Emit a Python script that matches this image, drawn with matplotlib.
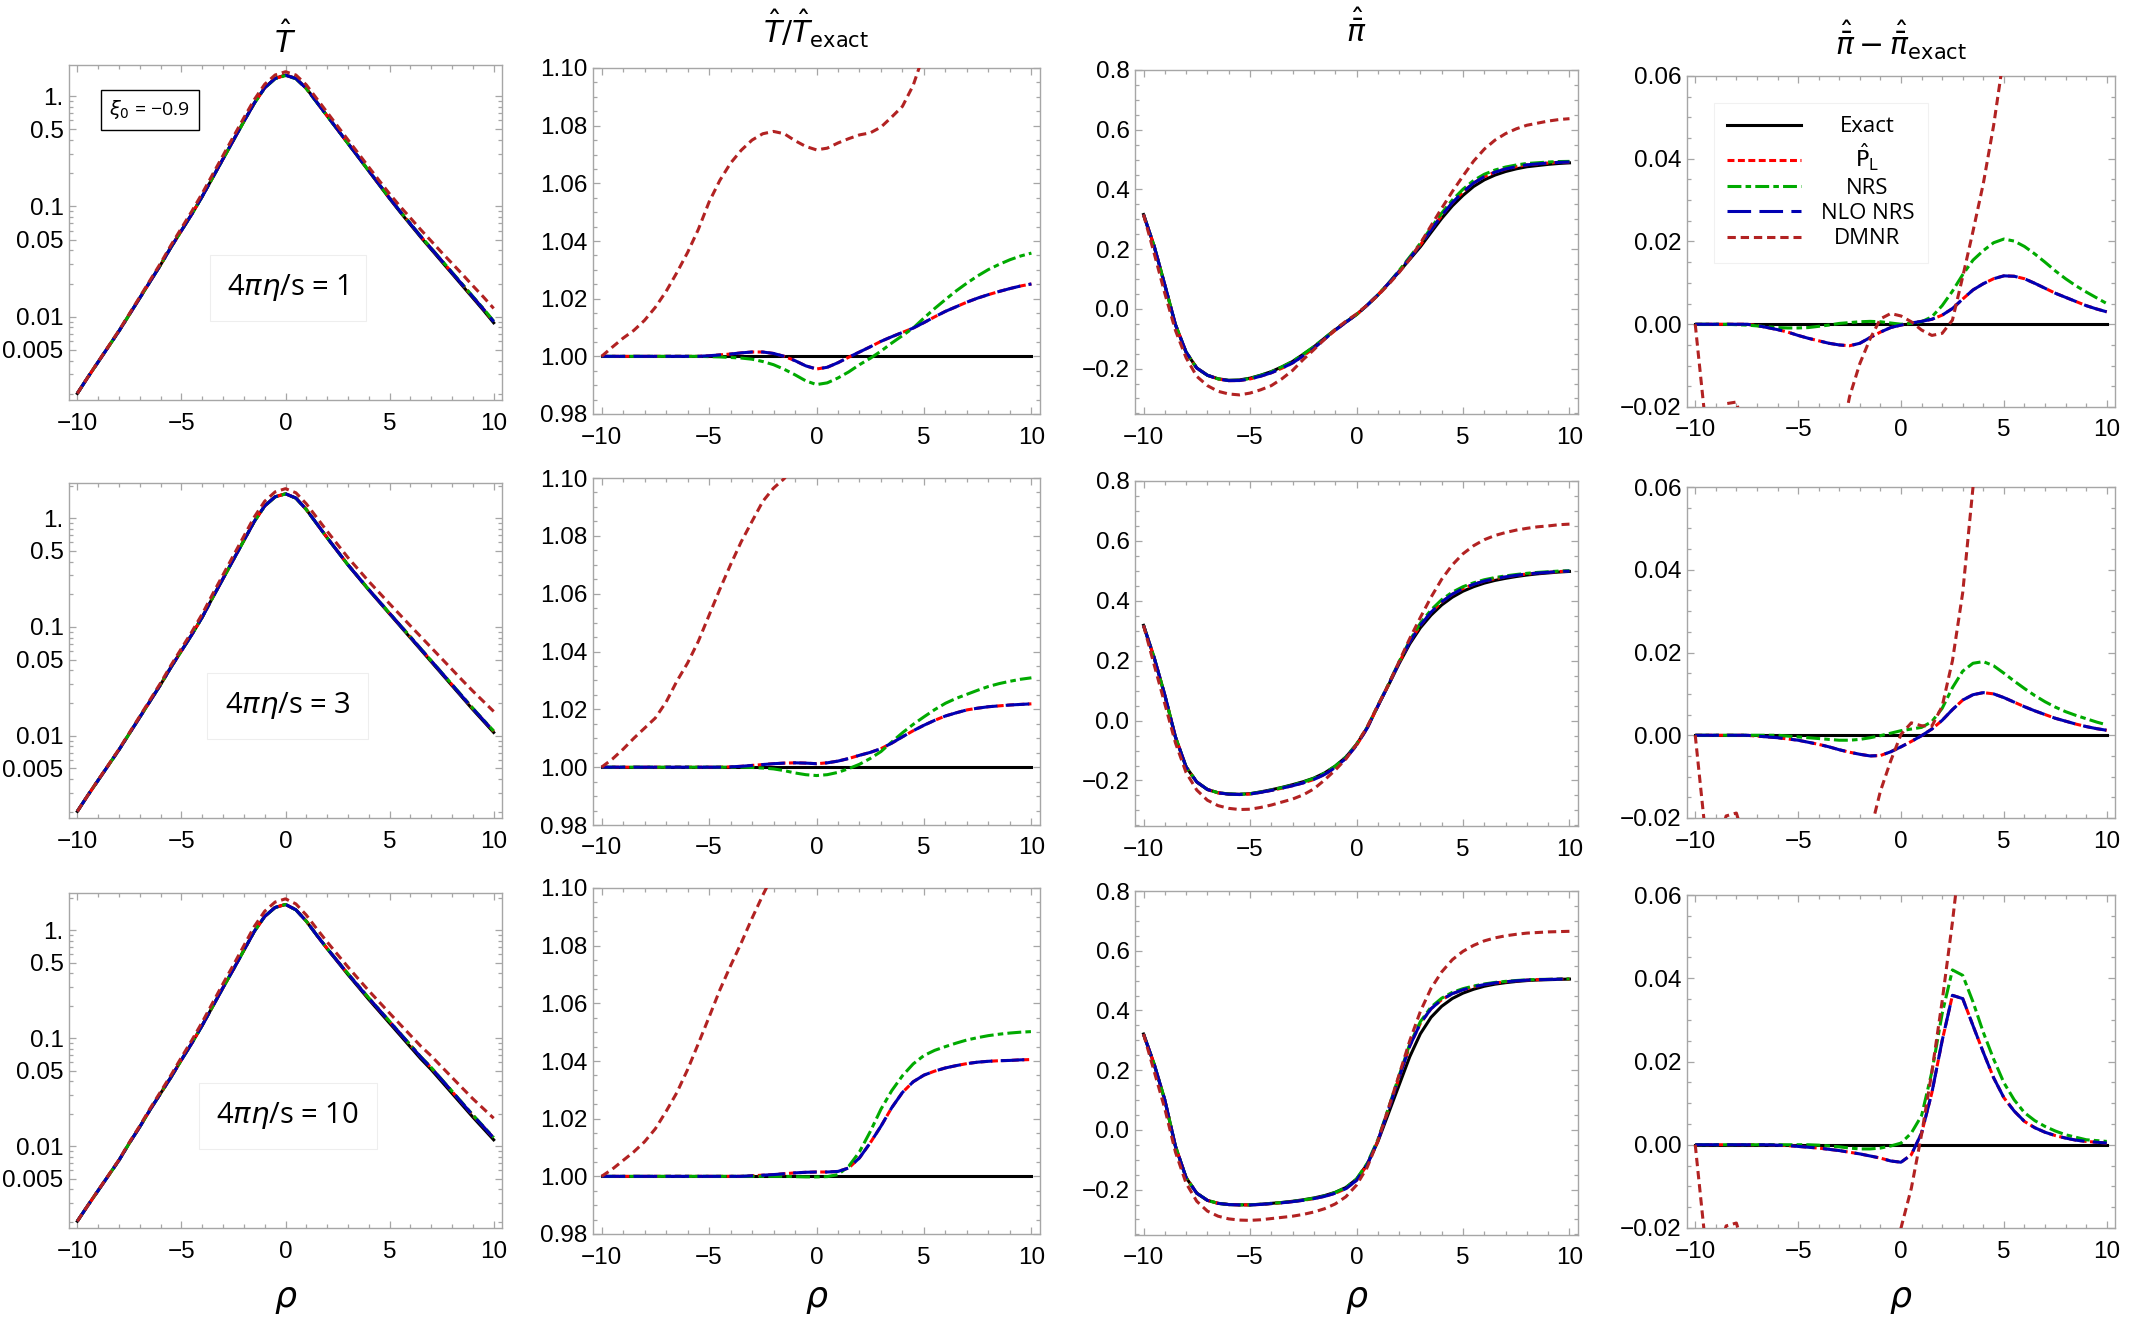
#!/usr/bin/env python3
"""
Gubser-flow comparison grid: T-hat, T-hat ratio, pi-bar-hat and its deviation
for three values of 4 pi eta/s (rows), five hydrodynamic schemes (lines).
"""

import numpy as np
import matplotlib
matplotlib.use("Agg")
import matplotlib.pyplot as plt
from matplotlib.ticker import FixedLocator, MultipleLocator, FuncFormatter

plt.rcParams["font.family"] = ["Liberation Sans", "DejaVu Sans"]
plt.rcParams["mathtext.fontset"] = "dejavusans"
plt.rcParams["lines.scale_dashes"] = False

# ---------------------------------------------------------------- data
RHO = [-10.0, -9.5, -9.0, -8.5, -8.0, -7.5, -7.0, -6.5, -6.0, -5.5,
       -5.0, -4.5, -4.0, -3.5, -3.0, -2.5, -2.0, -1.5, -1.0, -0.5,
       0.0, 0.5, 1.0, 1.5, 2.0, 2.5, 3.0, 3.5, 4.0, 4.5,
       5.0, 5.5, 6.0, 6.5, 7.0, 7.5, 8.0, 8.5, 9.0, 9.5, 10.0]

ETA_VALUES = ["1", "3", "10"]

# --- 4 pi eta/s = 1
LOGT_EXACT_1 = [-2.695, -2.55, -2.41, -2.27, -2.13, -1.98, -1.83, -1.68, -1.53, -1.37,
                -1.22, -1.07, -0.91, -0.74, -0.57, -0.40, -0.23, -0.065, 0.075, 0.16,
                0.19, 0.16, 0.07, -0.055, -0.18, -0.305, -0.43, -0.555, -0.68, -0.805,
                -0.93, -1.05, -1.165, -1.28, -1.39, -1.50, -1.61, -1.72, -1.83, -1.94, -2.055]
TRATIO_NLO_1 = [1.0, 1.0, 1.0, 1.0, 1.0, 1.0, 1.0, 1.0, 1.0, 1.0,
                1.0002, 1.0005, 1.0008, 1.0012, 1.0015, 1.0015, 1.0010, 1.0000, 0.9985, 0.9967,
                0.9956, 0.9962, 0.9978, 0.9997, 1.0015, 1.0033, 1.0052, 1.0068, 1.0083, 1.0098,
                1.0117, 1.0137, 1.0156, 1.0172, 1.0188, 1.0202, 1.0214, 1.0225, 1.0235, 1.0244, 1.0251]
TRATIO_NRS_1 = [1.0, 1.0, 1.0, 1.0, 1.0, 1.0, 1.0, 1.0, 1.0, 1.0,
                0.9999, 0.9998, 0.9996, 0.9994, 0.9990, 0.9982, 0.9971, 0.9955, 0.9936, 0.9915,
                0.9902, 0.9908, 0.9925, 0.9946, 0.9971, 0.9993, 1.0018, 1.0046, 1.0072, 1.0098,
                1.0133, 1.0166, 1.0197, 1.0227, 1.0254, 1.0279, 1.0301, 1.0319, 1.0335, 1.0348, 1.0358]
TRATIO_DMNR_1 = [1.0, 1.0032, 1.0063, 1.0090, 1.0125, 1.0170, 1.0225, 1.0290, 1.0360, 1.0440,
                 1.0535, 1.0610, 1.0670, 1.0715, 1.0750, 1.0772, 1.0780, 1.0772, 1.0748, 1.0728,
                 1.0716, 1.0722, 1.0740, 1.0755, 1.0768, 1.0775, 1.0795, 1.0830, 1.0867, 1.0940,
                 1.105, 1.125, 1.148, 1.17, 1.19, 1.21, 1.24, 1.27, 1.29, 1.32, 1.35]
PI_EXACT_1 = [0.316, 0.21, 0.08, -0.053, -0.145, -0.198, -0.222, -0.234, -0.239, -0.238,
              -0.232, -0.222, -0.210, -0.194, -0.176, -0.152, -0.127, -0.098, -0.070, -0.044,
              -0.019, 0.012, 0.046, 0.084, 0.124, 0.166, 0.208, 0.256, 0.303, 0.345,
              0.380, 0.410, 0.432, 0.448, 0.460, 0.469, 0.476, 0.480, 0.484, 0.487, 0.489]
PIDIFF_NLO_1 = [0.0, 0.0, 0.0, 0.0, 0.0, 0.0, -0.0003, -0.0008, -0.0013, -0.0019,
                -0.0027, -0.0034, -0.0040, -0.0046, -0.0050, -0.0052, -0.0046, -0.0032, -0.0019, -0.0008,
                -0.0002, 0.0003, 0.0007, 0.0012, 0.0022, 0.0038, 0.0061, 0.0083, 0.0098, 0.0110,
                0.0117, 0.0116, 0.0110, 0.0099, 0.0087, 0.0075, 0.0065, 0.0055, 0.0045, 0.0037, 0.0030]
PIDIFF_NRS_1 = [0.0, 0.0, 0.0, 0.0, -0.0001, -0.0002, -0.0004, -0.0006, -0.0008, -0.0009,
                -0.0009, -0.0008, -0.0005, -0.0002, 0.0002, 0.0004, 0.0006, 0.0007, 0.0006, 0.0003,
                0.0000, 0.0002, 0.0006, 0.0018, 0.0045, 0.0080, 0.0120, 0.0155, 0.0178, 0.0197,
                0.0206, 0.0201, 0.0188, 0.0170, 0.0150, 0.0129, 0.0110, 0.0093, 0.0078, 0.0064, 0.0050]
PIDIFF_DMNR_1 = [0.0, -0.024, -0.028, -0.0192, -0.0188, -0.028, -0.035, -0.042, -0.046, -0.050,
                 -0.050, -0.049, -0.047, -0.040, -0.030, -0.0175, -0.0095, -0.0035, 0.0013, 0.0026,
                 0.0020, 0.0006, -0.0014, -0.0027, -0.0022, 0.0010, 0.0115, 0.0225, 0.0340, 0.0480,
                 0.0650, 0.085, 0.103, 0.117, 0.127, 0.134, 0.139, 0.142, 0.145, 0.147, 0.148]

# --- 4 pi eta/s = 3
LOGT_EXACT_3 = [-2.696, -2.55, -2.41, -2.27, -2.13, -1.98, -1.83, -1.68, -1.53, -1.37,
                -1.22, -1.07, -0.91, -0.73, -0.555, -0.38, -0.205, -0.03, 0.113, 0.197,
                0.225, 0.185, 0.08, -0.05, -0.18, -0.305, -0.43, -0.545, -0.66, -0.77,
                -0.88, -0.99, -1.10, -1.21, -1.32, -1.43, -1.54, -1.65, -1.76, -1.865, -1.97]
TRATIO_NLO_3 = [1.0, 1.0, 1.0, 1.0, 1.0, 1.0, 1.0, 1.0, 1.0, 1.0,
                1.0, 1.0, 1.0001, 1.0003, 1.0006, 1.0009, 1.0012, 1.0014, 1.0015, 1.0014,
                1.0012, 1.0015, 1.0021, 1.0030, 1.0041, 1.0051, 1.0064, 1.0083, 1.0105, 1.0126,
                1.0145, 1.0162, 1.0177, 1.0188, 1.0198, 1.0204, 1.0209, 1.0212, 1.0215, 1.0217, 1.0219]
TRATIO_NRS_3 = [1.0, 1.0, 1.0, 1.0, 1.0, 1.0, 1.0, 1.0, 1.0, 1.0,
                1.0, 1.0, 1.0, 1.0, 0.9999, 0.9997, 0.9994, 0.9988, 0.9980, 0.9974,
                0.9971, 0.9974, 0.9982, 0.9995, 1.0010, 1.0030, 1.0054, 1.0087, 1.0119, 1.0148,
                1.0174, 1.0199, 1.0221, 1.0238, 1.0252, 1.0266, 1.0279, 1.0289, 1.0297, 1.0304, 1.0309]
TRATIO_DMNR_3 = [1.0, 1.0028, 1.0062, 1.0100, 1.0135, 1.0170, 1.0225, 1.0297, 1.0360, 1.0435,
                 1.0525, 1.0615, 1.0700, 1.0780, 1.0850, 1.0919, 1.0965, 1.0998, 1.105, 1.11,
                 1.115, 1.12, 1.13, 1.14, 1.15, 1.16, 1.17, 1.185, 1.20, 1.22,
                 1.24, 1.265, 1.29, 1.32, 1.35, 1.38, 1.41, 1.44, 1.48, 1.52, 1.56]
PI_EXACT_3 = [0.318, 0.21, 0.085, -0.055, -0.155, -0.205, -0.230, -0.241, -0.245, -0.246,
              -0.244, -0.238, -0.231, -0.223, -0.214, -0.204, -0.192, -0.175, -0.152, -0.122,
              -0.080, -0.024, 0.048, 0.118, 0.190, 0.256, 0.310, 0.352, 0.386, 0.412,
              0.432, 0.447, 0.459, 0.468, 0.475, 0.481, 0.486, 0.490, 0.493, 0.496, 0.498]
PIDIFF_NLO_3 = [0.0, 0.0, 0.0, 0.0, 0.0, 0.0, -0.0002, -0.0004, -0.0006, -0.0009,
                -0.0012, -0.0017, -0.0022, -0.0028, -0.0035, -0.0041, -0.0046, -0.0050, -0.0049, -0.0040,
                -0.0028, -0.0015, -0.0001, 0.0015, 0.0036, 0.0062, 0.0085, 0.0098, 0.0103, 0.0100,
                0.0091, 0.0080, 0.0069, 0.0059, 0.0050, 0.0041, 0.0034, 0.0027, 0.0021, 0.0016, 0.0012]
PIDIFF_NRS_3 = [0.0, 0.0, 0.0, 0.0, 0.0, 0.0, 0.0, 0.0, 0.0, -0.0002,
                -0.0004, -0.0006, -0.0008, -0.0010, -0.0012, -0.0012, -0.0010, -0.0006, -0.0001, 0.0005,
                0.0011, 0.0015, 0.0019, 0.0033, 0.0065, 0.0115, 0.0155, 0.0174, 0.0178, 0.0168,
                0.0150, 0.0131, 0.0113, 0.0096, 0.0081, 0.0068, 0.0057, 0.0048, 0.0040, 0.0032, 0.0025]
PIDIFF_DMNR_3 = [0.0, -0.024, -0.029, -0.0195, -0.0188, -0.027, -0.036, -0.043, -0.048, -0.051,
                 -0.052, -0.052, -0.051, -0.049, -0.048, -0.044, -0.036, -0.0235, -0.0135, -0.0062,
                 0.0002, 0.0030, 0.0023, 0.0022, 0.0070, 0.0180, 0.0345, 0.0600, 0.086, 0.108,
                 0.125, 0.137, 0.145, 0.150, 0.153, 0.155, 0.156, 0.157, 0.157, 0.158, 0.158]

# --- 4 pi eta/s = 10
LOGT_EXACT_10 = [-2.694, -2.55, -2.41, -2.27, -2.13, -1.97, -1.82, -1.66, -1.51, -1.36,
                 -1.20, -1.045, -0.88, -0.705, -0.53, -0.36, -0.185, -0.01, 0.129, 0.212,
                 0.24, 0.19, 0.085, -0.045, -0.17, -0.29, -0.41, -0.525, -0.64, -0.75,
                 -0.86, -0.97, -1.08, -1.19, -1.29, -1.40, -1.51, -1.62, -1.73, -1.835, -1.94]
TRATIO_NLO_10 = [1.0, 1.0, 1.0, 1.0, 1.0, 1.0, 1.0, 1.0, 1.0, 1.0,
                 1.0, 1.0, 1.0, 1.0, 1.0002, 1.0004, 1.0006, 1.0009, 1.0012, 1.0014,
                 1.0015, 1.0015, 1.0017, 1.0029, 1.0064, 1.0116, 1.0174, 1.0238, 1.0291, 1.0328,
                 1.0351, 1.0365, 1.0376, 1.0384, 1.0391, 1.0396, 1.0399, 1.0401, 1.0402, 1.0404, 1.0405]
TRATIO_NRS_10 = [1.0, 1.0, 1.0, 1.0, 1.0, 1.0, 1.0, 1.0, 1.0, 1.0,
                 1.0, 1.0, 1.0, 1.0, 1.0, 1.0, 1.0, 1.0, 0.9999, 0.9998,
                 0.9998, 0.9999, 1.0006, 1.0035, 1.0085, 1.0155, 1.0233, 1.0297, 1.0349, 1.0390,
                 1.0419, 1.0437, 1.0450, 1.0462, 1.0473, 1.0481, 1.0488, 1.0493, 1.0497, 1.0500, 1.0502]
TRATIO_DMNR_10 = [1.0, 1.0025, 1.0055, 1.0085, 1.0120, 1.0165, 1.0225, 1.0290, 1.0370, 1.0460,
                  1.0552, 1.0646, 1.0730, 1.0810, 1.0895, 1.0975, 1.105, 1.112, 1.118, 1.123,
                  1.128, 1.135, 1.14, 1.148, 1.156, 1.166, 1.178, 1.19, 1.205, 1.222,
                  1.24, 1.26, 1.285, 1.31, 1.34, 1.37, 1.405, 1.44, 1.48, 1.53, 1.585]
PI_EXACT_10 = [0.321, 0.22, 0.10, -0.055, -0.160, -0.212, -0.236, -0.246, -0.250, -0.251,
               -0.251, -0.249, -0.246, -0.243, -0.239, -0.234, -0.228, -0.220, -0.209, -0.193,
               -0.165, -0.115, -0.040, 0.055, 0.150, 0.245, 0.322, 0.377, 0.414, 0.440,
               0.458, 0.471, 0.481, 0.488, 0.493, 0.497, 0.500, 0.502, 0.503, 0.504, 0.505]
PIDIFF_NLO_10 = [0.0, 0.0, 0.0, 0.0, 0.0, 0.0, 0.0, 0.0, -0.0001, -0.0002,
                 -0.0004, -0.0006, -0.0008, -0.0011, -0.0014, -0.0018, -0.0022, -0.0027, -0.0032, -0.0039,
                 -0.0042, -0.0024, 0.0028, 0.0125, 0.0250, 0.0359, 0.0351, 0.0286, 0.0222, 0.0161,
                 0.0113, 0.0081, 0.0056, 0.0041, 0.0030, 0.0022, 0.0016, 0.0011, 0.0008, 0.0006, 0.0004]
PIDIFF_NRS_10 = [0.0, 0.0, 0.0, 0.0, 0.0, 0.0, 0.0, 0.0, 0.0, 0.0,
                 0.0, 0.0, -0.0001, -0.0003, -0.0005, -0.0008, -0.0010, -0.0010, -0.0008, -0.0003,
                 0.0004, 0.0028, 0.0070, 0.0175, 0.0315, 0.0420, 0.0407, 0.0343, 0.0270, 0.0206,
                 0.0149, 0.0108, 0.0077, 0.0058, 0.0044, 0.0033, 0.0024, 0.0018, 0.0012, 0.0010, 0.0008]
PIDIFF_DMNR_10 = [0.0, -0.024, -0.029, -0.0195, -0.0188, -0.027, -0.036, -0.043, -0.048, -0.051,
                  -0.052, -0.052, -0.051, -0.050, -0.050, -0.049, -0.047, -0.044, -0.039, -0.031,
                  -0.0200, -0.0105, 0.0025, 0.0175, 0.0345, 0.0535, 0.075, 0.097, 0.115, 0.130,
                  0.140, 0.147, 0.152, 0.155, 0.157, 0.158, 0.159, 0.159, 0.160, 0.160, 0.160]

ROWS = [
    dict(logT=LOGT_EXACT_1, r_nlo=TRATIO_NLO_1, r_nrs=TRATIO_NRS_1, r_dmnr=TRATIO_DMNR_1,
         pi=PI_EXACT_1, d_nlo=PIDIFF_NLO_1, d_nrs=PIDIFF_NRS_1, d_dmnr=PIDIFF_DMNR_1),
    dict(logT=LOGT_EXACT_3, r_nlo=TRATIO_NLO_3, r_nrs=TRATIO_NRS_3, r_dmnr=TRATIO_DMNR_3,
         pi=PI_EXACT_3, d_nlo=PIDIFF_NLO_3, d_nrs=PIDIFF_NRS_3, d_dmnr=PIDIFF_DMNR_3),
    dict(logT=LOGT_EXACT_10, r_nlo=TRATIO_NLO_10, r_nrs=TRATIO_NRS_10, r_dmnr=TRATIO_DMNR_10,
         pi=PI_EXACT_10, d_nlo=PIDIFF_NLO_10, d_nrs=PIDIFF_NRS_10, d_dmnr=PIDIFF_DMNR_10),
]

# ---------------------------------------------------------------- styles / layout
LW = 2.2
STYLE = {
    "exact": dict(color="black", lw=LW, ls="-", zorder=2),
    "pl": dict(color="#ff0000", lw=LW, dashes=(5, 2.5), zorder=3),
    "nrs": dict(color="#00aa00", lw=LW, dashes=(10, 3, 4, 3), zorder=4),
    "nlo": dict(color="#0000b3", lw=LW, dashes=(17, 6), zorder=5),
    "dmnr": dict(color="#b22222", lw=LW, dashes=(6, 3.5), zorder=6),
}
FRAME = "#a6a6a6"

W, H = 2142, 1328
# (left, top, right, bottom) in pixels
BOXES = [
    [(69, 65, 502, 400), (593, 68, 1040, 414), (1135, 70, 1578, 414), (1687, 76, 2115, 407)],
    [(69, 483, 502, 818), (593, 478, 1040, 825), (1135, 481, 1578, 826), (1687, 487, 2115, 818)],
    [(69, 893, 502, 1228), (593, 888, 1040, 1234), (1135, 891, 1578, 1235), (1687, 895, 2115, 1228)],
]
T_YLIMS = [(0.00176, 1.91), (0.00175, 2.11), (0.00175, 2.22)]


def minus(s):
    return s.replace("-", "\u2212")


def add_axes(fig, box):
    l, t, r, b = box
    return fig.add_axes([l / W, 1 - b / H, (r - l) / W, (b - t) / H])


def style_frame(ax):
    for s in ax.spines.values():
        s.set_color(FRAME)
        s.set_linewidth(1.0)
    ax.tick_params(which="both", direction="in", top=True, right=True,
                   color=FRAME, width=0.9, labelsize=17.5)
    ax.tick_params(which="major", length=5)
    ax.tick_params(which="minor", length=3)
    ax.tick_params(axis="x", pad=9)
    ax.tick_params(axis="y", pad=4)
    ax.set_xlim(-10.4, 10.4)
    ax.xaxis.set_major_locator(FixedLocator([-10, -5, 0, 5, 10]))
    ax.xaxis.set_minor_locator(MultipleLocator(1))
    ax.xaxis.set_major_formatter(FuncFormatter(lambda v, p: minus(f"{v:.0f}")))


def main():
    fig = plt.figure(figsize=(W / 100, H / 100), dpi=100)
    rho = np.array(RHO)

    log_major = [0.005, 0.01, 0.05, 0.1, 0.5, 1.0]
    log_labels = {0.005: "0.005", 0.01: "0.01", 0.05: "0.05", 0.1: "0.1", 0.5: "0.5", 1.0: "1."}
    log_minor = [k * 10.0 ** e for e in (-3, -2, -1, 0) for k in (1, 2, 3, 4, 6, 7, 8, 9)
                 if k * 10.0 ** e not in log_major]

    legend_ax = None
    for i, row in enumerate(ROWS):
        T = 10 ** np.array(row["logT"])
        r_nlo, r_nrs, r_dmnr = (np.array(row[k]) for k in ("r_nlo", "r_nrs", "r_dmnr"))
        pi = np.array(row["pi"])
        d_nlo, d_nrs, d_dmnr = (np.array(row[k]) for k in ("d_nlo", "d_nrs", "d_dmnr"))

        # --- T-hat (log)
        ax = add_axes(fig, BOXES[i][0])
        ax.set_yscale("log")
        ax.plot(rho, T, **STYLE["exact"])
        ax.plot(rho, T * r_nlo, **STYLE["pl"])
        ax.plot(rho, T * r_nrs, **STYLE["nrs"])
        ax.plot(rho, T * r_nlo, **STYLE["nlo"])
        ax.plot(rho, T * r_dmnr, **STYLE["dmnr"])
        style_frame(ax)
        ax.set_ylim(*T_YLIMS[i])
        ax.yaxis.set_major_locator(FixedLocator(log_major))
        ax.yaxis.set_minor_locator(FixedLocator(log_minor))
        ax.yaxis.set_major_formatter(FuncFormatter(lambda v, p: log_labels.get(round(v, 4), "")))
        ax.yaxis.set_minor_formatter(FuncFormatter(lambda v, p: ""))
        ax.text(0.505, 0.335, "4" + r"$\pi\eta$" + "/s = " + ETA_VALUES[i],
                transform=ax.transAxes, ha="center", va="center", fontsize=21,
                family="Open Sans",
                bbox=dict(boxstyle="square,pad=0.6", fc="white", ec="#eeeeee", lw=0.8))
        if i == 0:
            ax.text(0.187, 0.866, r"$\xi_0$" + " = \u22120.9", transform=ax.transAxes,
                    ha="center", va="center", fontsize=14, family="Open Sans",
                    bbox=dict(boxstyle="square,pad=0.42", fc="white", ec="black", lw=1.0))

        # --- T-hat ratio
        ax = add_axes(fig, BOXES[i][1])
        ax.plot(rho, np.ones_like(rho), **STYLE["exact"])
        ax.plot(rho, r_nlo, **STYLE["pl"])
        ax.plot(rho, r_nrs, **STYLE["nrs"])
        ax.plot(rho, r_nlo, **STYLE["nlo"])
        ax.plot(rho, r_dmnr, **STYLE["dmnr"])
        style_frame(ax)
        ax.set_ylim(0.98, 1.10)
        ax.yaxis.set_major_locator(FixedLocator([0.98, 1.00, 1.02, 1.04, 1.06, 1.08, 1.10]))
        ax.yaxis.set_minor_locator(MultipleLocator(0.005))
        ax.yaxis.set_major_formatter(FuncFormatter(lambda v, p: f"{v:.2f}"))

        # --- pi-bar-hat
        ax = add_axes(fig, BOXES[i][2])
        ax.plot(rho, pi, **STYLE["exact"])
        ax.plot(rho, pi + d_nlo, **STYLE["pl"])
        ax.plot(rho, pi + d_nrs, **STYLE["nrs"])
        ax.plot(rho, pi + d_nlo, **STYLE["nlo"])
        ax.plot(rho, pi + d_dmnr, **STYLE["dmnr"])
        style_frame(ax)
        ax.set_ylim(-0.352, 0.8)
        ax.yaxis.set_major_locator(FixedLocator([-0.2, 0.0, 0.2, 0.4, 0.6, 0.8]))
        ax.yaxis.set_minor_locator(MultipleLocator(0.05))
        ax.yaxis.set_major_formatter(FuncFormatter(lambda v, p: minus(f"{v:.1f}")))

        # --- pi-bar-hat deviation
        ax = add_axes(fig, BOXES[i][3])
        ax.plot(rho, np.zeros_like(rho), label="Exact", **STYLE["exact"])
        ax.plot(rho, d_nlo, label=r"$\hat{\mathrm{P}}_{\mathrm{L}}$", **STYLE["pl"])
        ax.plot(rho, d_nrs, label="NRS", **STYLE["nrs"])
        ax.plot(rho, d_nlo, label="NLO NRS", **STYLE["nlo"])
        ax.plot(rho, d_dmnr, label="DMNR", **STYLE["dmnr"])
        style_frame(ax)
        ax.set_ylim(-0.02, 0.06)
        ax.yaxis.set_major_locator(FixedLocator([-0.02, 0.0, 0.02, 0.04, 0.06]))
        ax.yaxis.set_minor_locator(MultipleLocator(0.005))
        ax.yaxis.set_major_formatter(FuncFormatter(lambda v, p: minus(f"{v:.2f}")))
        if i == 0:
            legend_ax = ax

    leg = legend_ax.legend(loc="upper left", bbox_to_anchor=(0.037, 0.952),
                           prop={"family": "Open Sans", "size": 16},
                           handlelength=3.3, handletextpad=0.9, labelspacing=0.2,
                           borderpad=0.6, frameon=True, fancybox=False)
    leg.get_frame().set_edgecolor("#eeeeee")
    leg.get_frame().set_linewidth(0.8)

    # column titles and rho labels, centred on the axes columns
    titles = [r"$\hat{T}$", r"$\hat{T}/\hat{T}_{\rm exact}$",
              r"$\hat{\bar{\pi}}$", r"$\hat{\bar{\pi}}-\hat{\bar{\pi}}_{\rm exact}$"]
    title_y = [40, 29, 29, 40]
    for j, (title, ty) in enumerate(zip(titles, title_y)):
        l, t, r, b = BOXES[0][j]
        fig.text((l + r) / 2 / W, 1 - ty / H, title, ha="center", va="center", fontsize=21.5)
        l, t, r, b = BOXES[2][j]
        fig.text((l + r) / 2 / W, 1 - 1300 / H, r"$\rho$", ha="center", va="center", fontsize=25)

    # centre the legend labels over each other, as in the original
    fig.canvas.draw()
    texts = leg.get_texts()
    widths = [t.get_window_extent().width for t in texts]
    wmax = max(widths)
    for t, w in zip(texts, widths):
        t.set_x((wmax - w) / 2)

    fig.savefig("out.png", dpi=100)
    plt.close(fig)


if __name__ == "__main__":
    main()
